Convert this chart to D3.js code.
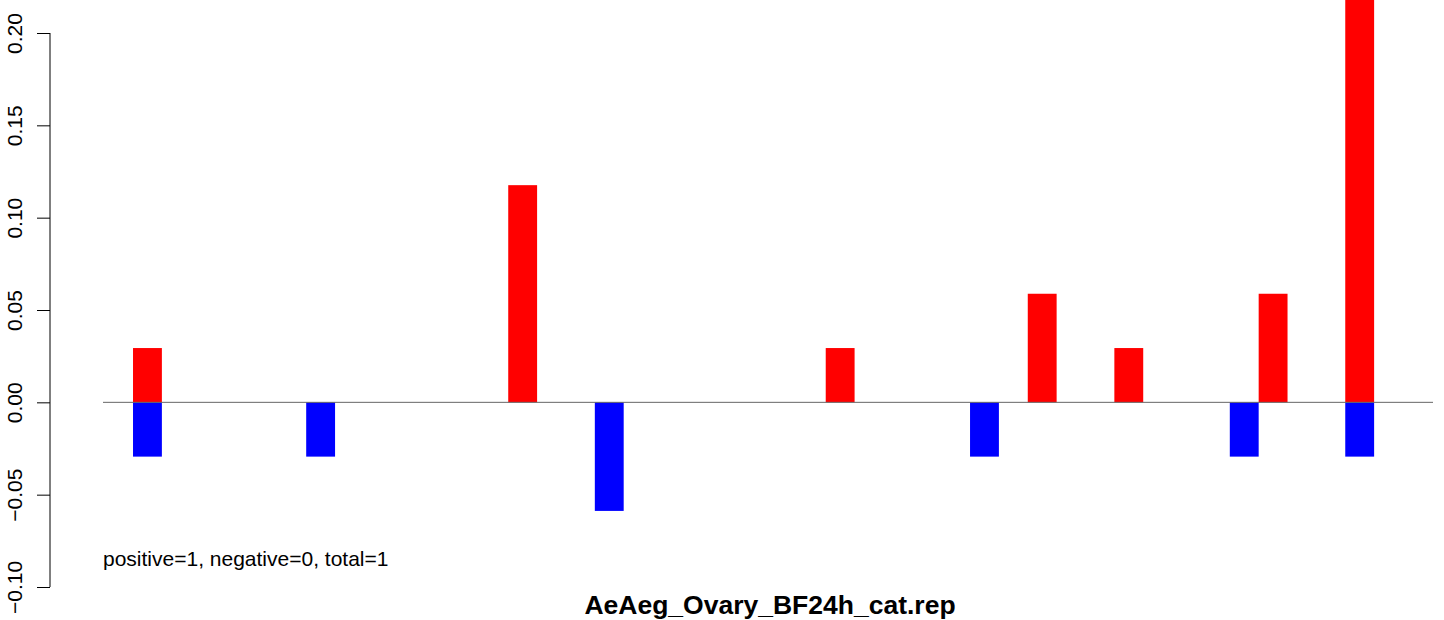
<!DOCTYPE html>
<html>
<head>
<meta charset="utf-8">
<script src="https://cdn.jsdelivr.net/npm/d3@7"></script>
<style>
  html, body { margin: 0; padding: 0; background: #fff; }
  svg { display: block; }
  text { font-family: "Liberation Sans", Arial, sans-serif; }
</style>
</head>
<body>
<div id="chart"></div>
<script>
// Slot index of each category (bars touch each other, no spacing)
const slots = d3.range(0, 43);
// Positive (red) values per slot
const posValues = [
  0.0294, 0, 0, 0, 0, 0, 0, 0, 0, 0,
  0, 0, 0, 0.1176, 0, 0, 0, 0, 0, 0,
  0, 0, 0, 0, 0.0294, 0, 0, 0, 0, 0,
  0, 0.0588, 0, 0, 0.0294, 0, 0, 0, 0, 0.0588,
  0, 0, 0.2353
];
// Negative (blue) values per slot
const negValues = [
  -0.0294, 0, 0, 0, 0, 0, -0.0294, 0, 0, 0,
  0, 0, 0, 0, 0, 0, -0.0588, 0, 0, 0,
  0, 0, 0, 0, 0, 0, 0, 0, 0, -0.0294,
  0, 0, 0, 0, 0, 0, 0, 0, -0.0294, 0,
  0, 0, -0.0294
];
const yTicks = [-0.10, -0.05, 0.00, 0.05, 0.10, 0.15, 0.20];
const note = "positive=1, negative=0, total=1";
const title = "AeAeg_Ovary_BF24h_cat.rep";

const W = 1444, H = 620;
const plotLeft = 103, plotRight = 1433;
const svg = d3.select("#chart").append("svg").attr("width", W).attr("height", H);

const x = d3.scaleLinear().domain([-1.04, 45.04]).range([plotLeft, plotRight]);
const y = d3.scaleLinear().domain([-0.10, 0.20]).range([587, 33]);
const bw = x(1) - x(0);

// bars
svg.append("g").selectAll("rect.pos")
  .data(slots.filter(i => posValues[i] > 0))
  .join("rect")
  .attr("x", i => x(i))
  .attr("width", bw)
  .attr("y", i => y(posValues[i]))
  .attr("height", i => y(0) - y(posValues[i]))
  .attr("fill", "#ff0000");

svg.append("g").selectAll("rect.neg")
  .data(slots.filter(i => negValues[i] < 0))
  .join("rect")
  .attr("x", i => x(i))
  .attr("width", bw)
  .attr("y", y(0))
  .attr("height", i => y(negValues[i]) - y(0))
  .attr("fill", "#0000ff");

// zero line
svg.append("line")
  .attr("x1", plotLeft).attr("x2", plotRight)
  .attr("y1", y(0)).attr("y2", y(0))
  .attr("stroke", "#666").attr("stroke-width", 1);

// y axis
const yAxis = d3.axisLeft(y).tickValues(yTicks).tickFormat(d3.format(".2f")).tickSize(13).tickPadding(6);
const ag = svg.append("g").attr("transform", "translate(50,0)").call(yAxis);
ag.select(".domain").attr("d", `M0,${y(-0.10)}V${y(0.20)}`).attr("stroke", "#000").attr("stroke-width", 1);
ag.selectAll(".tick line").attr("stroke", "#000");
ag.selectAll(".tick text")
  .attr("font-size", 21)
  .attr("fill", "#000")
  .attr("x", 0)
  .attr("y", 0)
  .attr("dy", "0.35em")
  .attr("text-anchor", "middle")
  .attr("transform", "translate(-35,0) rotate(-90)")
  .text(d => d3.format(".2f")(d).replace("-", "\u2212"));

// note
svg.append("text")
  .attr("x", 103).attr("y", 566)
  .attr("font-size", 21)
  .attr("fill", "#000")
  .text(note);

// title
svg.append("text")
  .attr("x", 770).attr("y", 614)
  .attr("text-anchor", "middle")
  .attr("font-size", 26.5)
  .attr("font-weight", "bold")
  .attr("fill", "#000")
  .text(title);
</script>
</body>
</html>
